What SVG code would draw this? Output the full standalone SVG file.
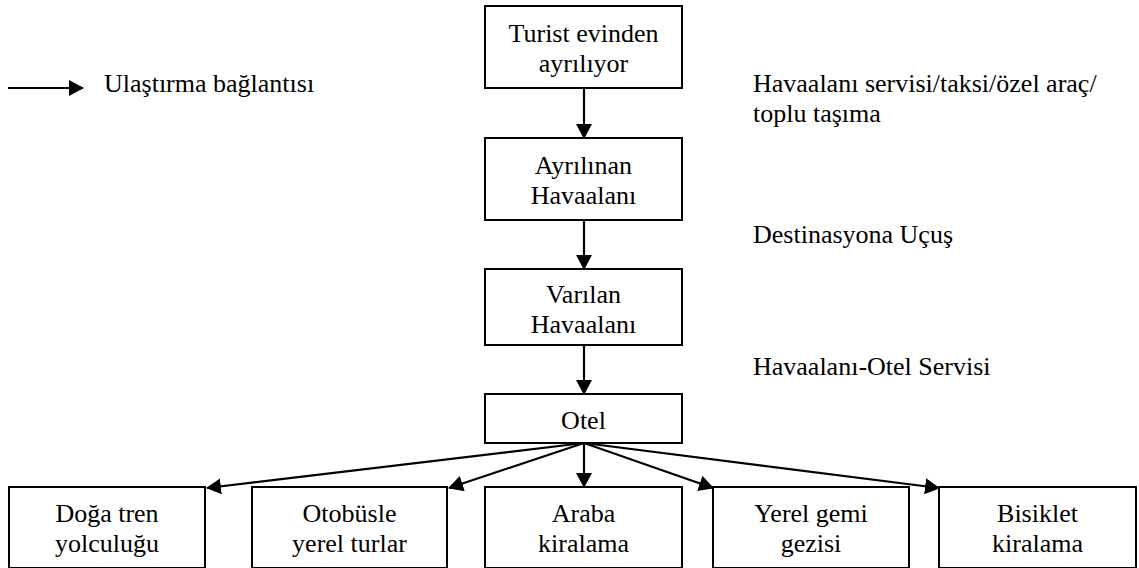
<svg xmlns="http://www.w3.org/2000/svg" width="1139" height="568" viewBox="0 0 1139 568">
<style>
.box{fill:#fff;stroke:#000;stroke-width:2}
text{font-family:'Liberation Serif','Tinos','Times New Roman','DejaVu Serif',serif;font-size:26px;fill:#000}
.c{text-anchor:middle}
.ln{stroke:#000;stroke-width:2.2;fill:none}
</style>
<defs>
<marker id="ah" viewBox="0 0 15 16" refX="14" refY="8" markerWidth="15" markerHeight="16" markerUnits="userSpaceOnUse" orient="auto">
<path d="M0,0 L15,8 L0,16 z" fill="#000"/>
</marker>
</defs>
<rect width="1139" height="568" fill="#fff"/>

<g id="legend">
<line class="ln" x1="8" y1="88" x2="83" y2="88" marker-end="url(#ah)"/>
<text x="104" y="92" font-family="Liberation Serif, serif">Ulaştırma bağlantısı</text>
</g>

<g id="labels" font-family="Liberation Serif, serif">
<text x="753" y="92">Havaalanı servisi/taksi/özel araç/</text>
<text x="753" y="122">toplu taşıma</text>
<text x="753" y="243">Destinasyona Uçuş</text>
<text x="753" y="375">Havaalanı-Otel Servisi</text>
</g>

<g id="connectors">
<line class="ln" x1="584" y1="88" x2="584" y2="138" marker-end="url(#ah)"/>
<line class="ln" x1="584" y1="220" x2="584" y2="269" marker-end="url(#ah)"/>
<line class="ln" x1="584" y1="345" x2="584" y2="394" marker-end="url(#ah)"/>
<line class="ln" x1="584" y1="443" x2="207" y2="488" marker-end="url(#ah)"/>
<line class="ln" x1="584" y1="443" x2="449" y2="488" marker-end="url(#ah)"/>
<line class="ln" x1="584" y1="443" x2="584" y2="487" marker-end="url(#ah)"/>
<line class="ln" x1="584" y1="443" x2="713" y2="488" marker-end="url(#ah)"/>
<line class="ln" x1="584" y1="443" x2="939" y2="488" marker-end="url(#ah)"/>
</g>

<g id="n-turist">
<rect class="box" x="485" y="6" width="197" height="82"/>
<text class="c" x="583.5" y="42">Turist evinden</text>
<text class="c" x="583.5" y="72">ayrılıyor</text>
</g>
<g id="n-ayrilinan">
<rect class="box" x="485" y="138" width="197" height="82"/>
<text class="c" x="583.5" y="174">Ayrılınan</text>
<text class="c" x="583.5" y="204">Havaalanı</text>
</g>
<g id="n-varilan">
<rect class="box" x="485" y="269" width="197" height="76"/>
<text class="c" x="583.5" y="303">Varılan</text>
<text class="c" x="583.5" y="333">Havaalanı</text>
</g>
<g id="n-otel">
<rect class="box" x="485" y="394" width="197" height="49"/>
<text class="c" x="583.5" y="429">Otel</text>
</g>

<g id="n-doga">
<rect class="box" x="9" y="487" width="196" height="81"/>
<text class="c" x="107" y="522">Doğa tren</text>
<text class="c" x="107" y="552">yolculuğu</text>
</g>
<g id="n-otobus">
<rect class="box" x="252" y="487" width="195" height="81"/>
<text class="c" x="349.5" y="522">Otobüsle</text>
<text class="c" x="349.5" y="552">yerel turlar</text>
</g>
<g id="n-araba">
<rect class="box" x="485" y="487" width="197" height="81"/>
<text class="c" x="583.5" y="522">Araba</text>
<text class="c" x="583.5" y="552">kiralama</text>
</g>
<g id="n-gemi">
<rect class="box" x="713" y="487" width="196" height="81"/>
<text class="c" x="811" y="522">Yerel gemi</text>
<text class="c" x="811" y="552">gezisi</text>
</g>
<g id="n-bisiklet">
<rect class="box" x="939" y="487" width="197" height="81"/>
<text class="c" x="1037.5" y="522">Bisiklet</text>
<text class="c" x="1037.5" y="552">kiralama</text>
</g>
</svg>
